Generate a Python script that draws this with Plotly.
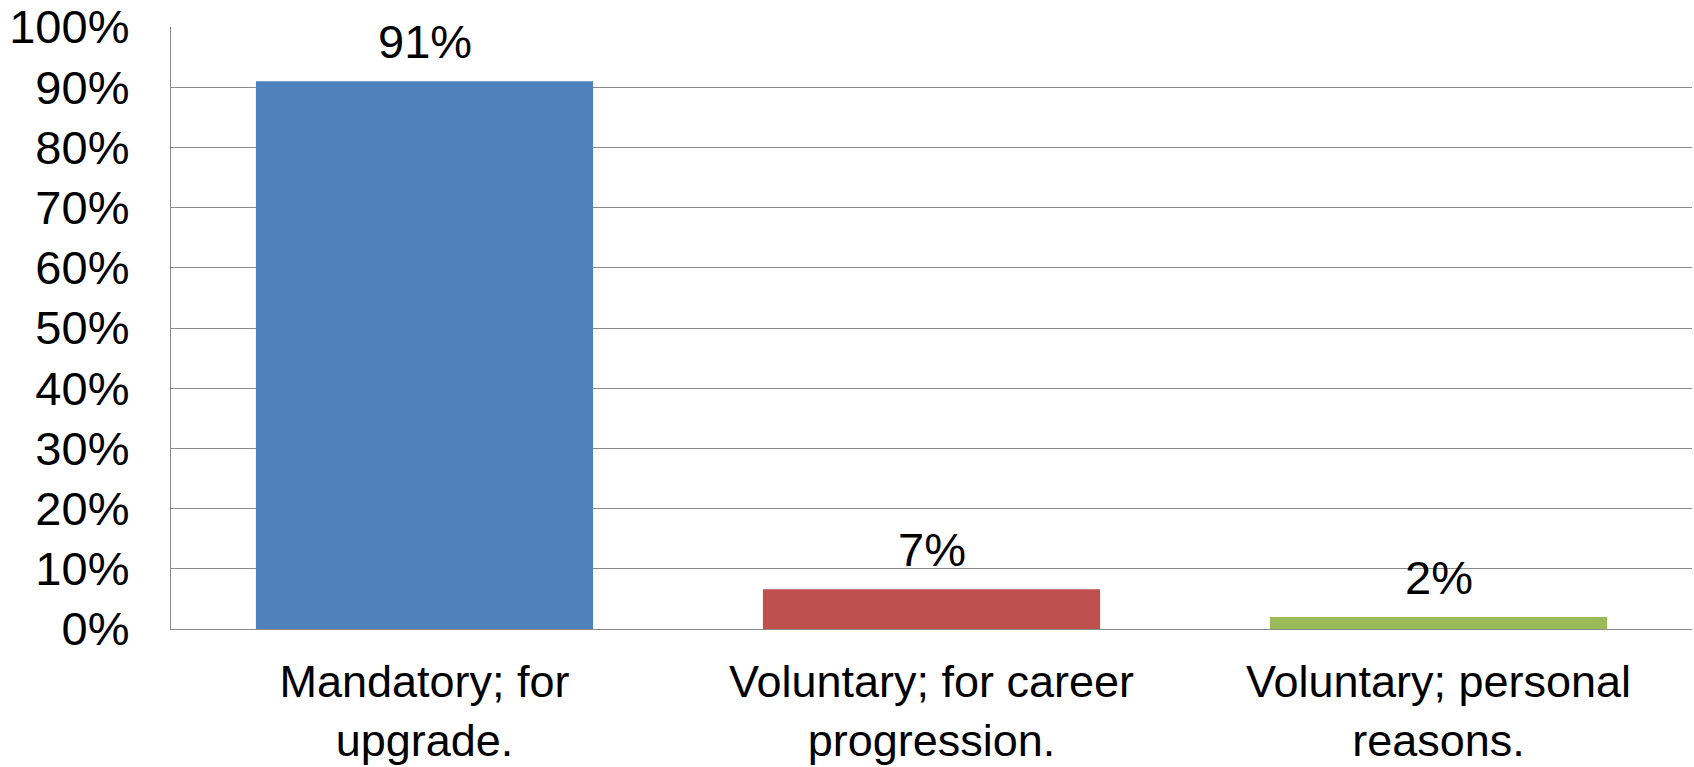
import plotly.graph_objects as go

categories = ["Mandatory; for<br>upgrade.", "Voluntary; for career<br>progression.", "Voluntary; personal<br>reasons."]
values = [0.91, 0.066, 0.02]
labels = ["91%", "7%", "2%"]
colors = ["#4F81BD", "#C0504D", "#9BBB59"]

FONT = "Arial, 'Liberation Sans', sans-serif"
FS = 47

fig = go.Figure(go.Bar(
    x=categories, y=values,
    marker=dict(color=colors, line=dict(width=0)),
    width=0.665, hoverinfo="x+y",
))

for c, v, t in zip(categories, values, labels):
    fig.add_annotation(
        x=c, y=v, text=t, showarrow=False, yanchor="bottom", yshift=11,
        font=dict(family=FONT, size=FS, color="black"),
    )

fig.update_layout(
    width=1694, height=767,
    margin=dict(l=171, r=2, t=27, b=138),
    plot_bgcolor="white", paper_bgcolor="white",
    showlegend=False,
    font=dict(family=FONT, size=FS, color="black"),
)
fig.update_yaxes(
    range=[0, 1], dtick=0.1, tickformat=".0%",
    showgrid=True, gridcolor="#8A8A8A", gridwidth=1.3,
    showline=True, linecolor="#8A8A8A", linewidth=1.3,
    zeroline=False, ticks="", ticklabelstandoff=31,
    ticklabeloverflow="allow",
    tickfont=dict(family=FONT, size=FS, color="black"),
    automargin=False,
)
fig.update_xaxes(
    showline=True, linecolor="#8A8A8A", linewidth=1.3,
    ticks="", ticklabelstandoff=13,
    ticklabeloverflow="allow",
    tickfont=dict(family=FONT, size=45, color="black"),
    automargin=False,
)

fig.write_html(
    "out.html",
    config={"displayModeBar": False},
    post_script="document.body.style.margin='0';document.body.style.overflow='hidden';",
)
